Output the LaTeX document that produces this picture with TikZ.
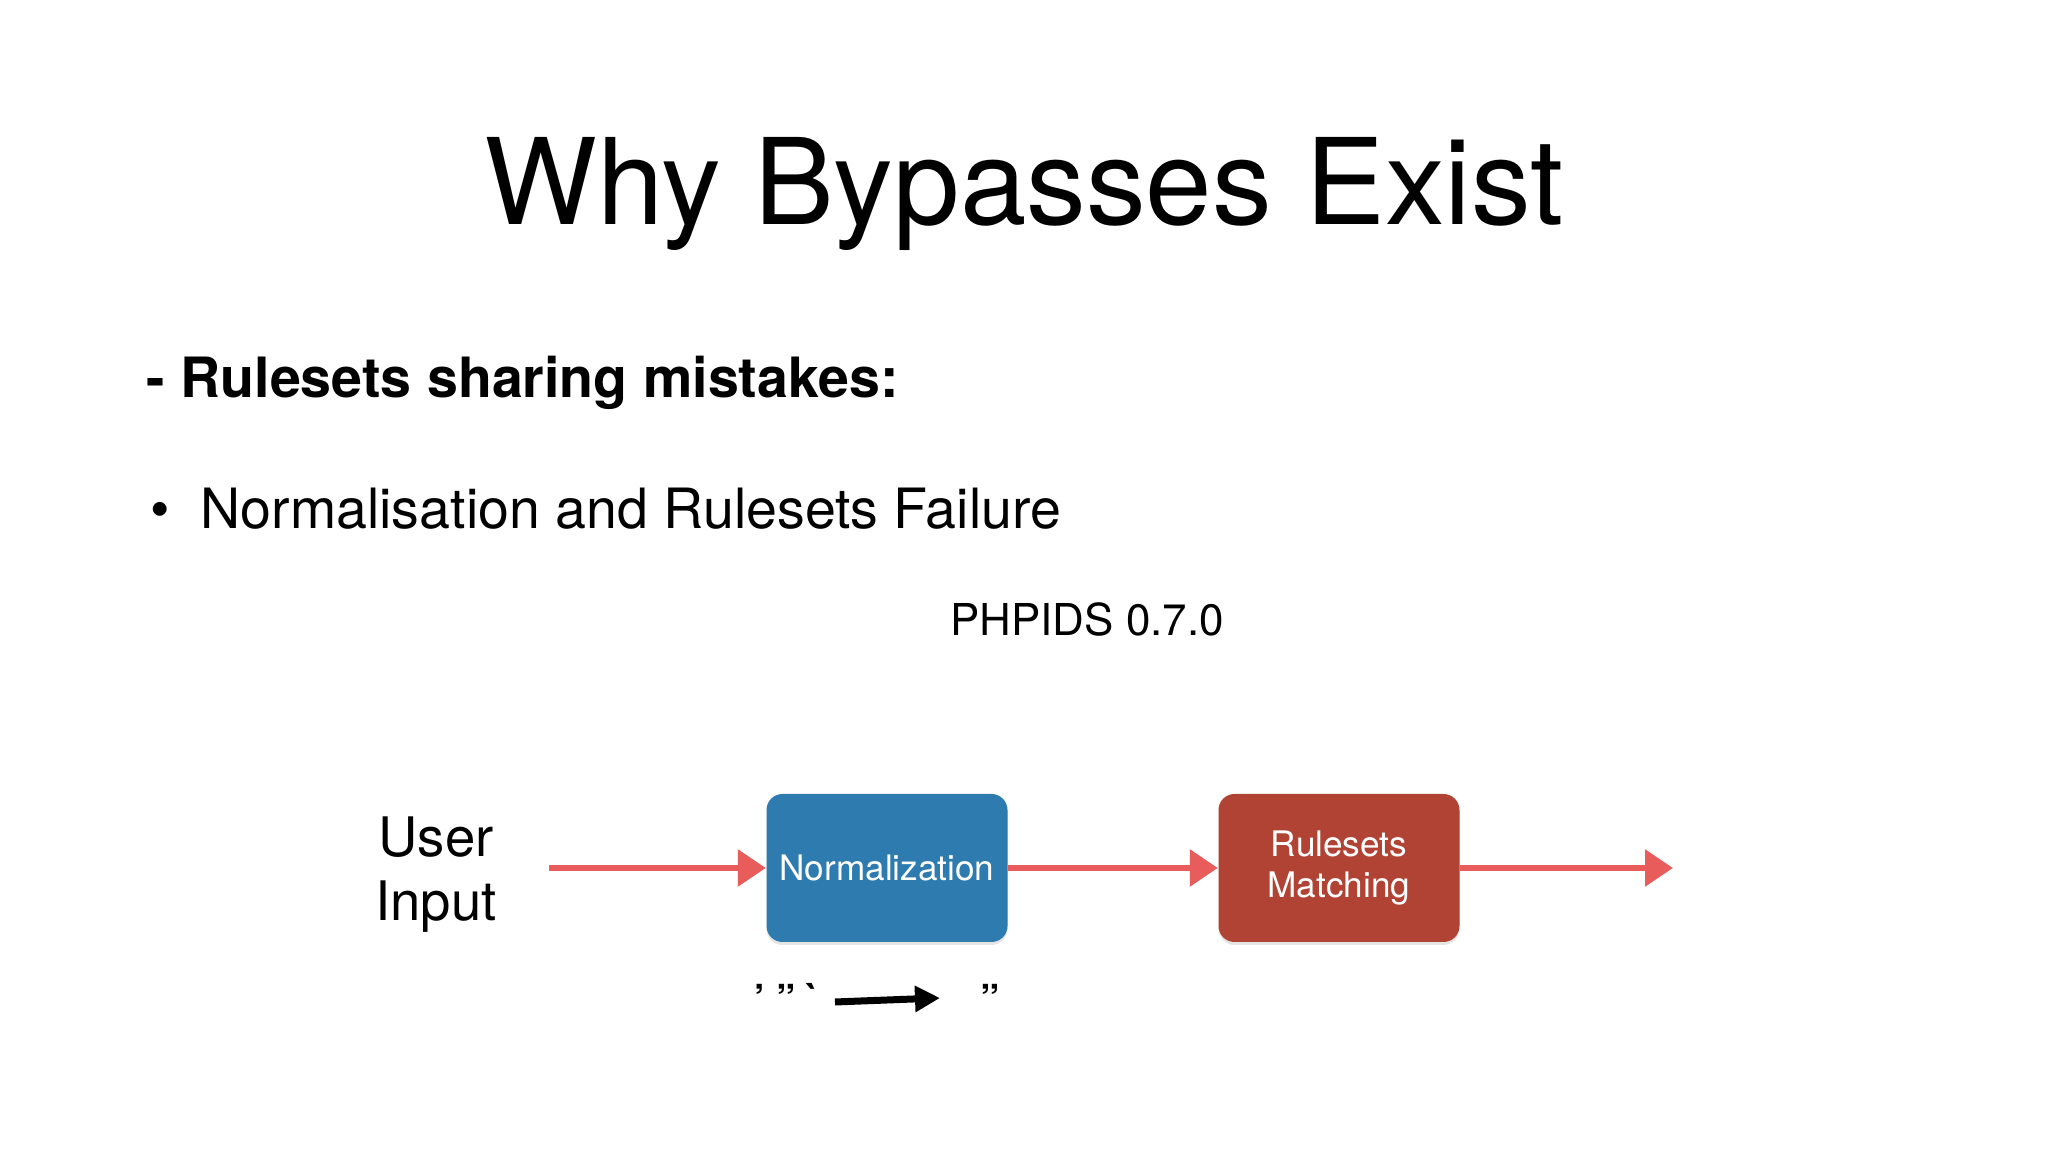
\documentclass[tikz,border=0pt]{standalone}
\usepackage{fontspec}
\setmainfont{TeX Gyre Heros}
\usetikzlibrary{arrows.meta,shadows}
\definecolor{normblue}{RGB}{46,123,176}
\definecolor{rulered}{RGB}{176,67,52}
\definecolor{flowred}{RGB}{232,92,92}
\begin{document}
\begin{tikzpicture}[
  stage/.style={rounded corners=0.16cm, minimum width=2.41cm, minimum height=1.48cm,
    text=white, align=center, font=\fontsize{10}{11.4}\selectfont,
    drop shadow={opacity=0.2,shadow xshift=0cm,shadow yshift=-0.03cm}},
  flow/.style={flowred, line width=0.06cm, -{Triangle[length=0.28cm,width=0.36cm]}}]
% Page
\fill[white] (0,0) rectangle (20.48,11.52);
\useasboundingbox (0,0) rectangle (20.48,11.52);

% Title and bullets
\node[anchor=base,font=\fontsize{34}{40}\selectfont] (title) at (10.24,9.27) {Why Bypasses Exist};
\node[anchor=base west,inner sep=0pt,font=\fontsize{15.8}{19}\selectfont\bfseries] (heading) at (1.46,7.54) {- Rulesets sharing mistakes:};
\node[anchor=base west,inner sep=0pt,font=\fontsize{15.8}{19}\selectfont] (dot) at (1.50,6.23) {•};
\node[anchor=base west,inner sep=0pt,font=\fontsize{15.8}{19}\selectfont] (point) at (2.00,6.23) {Normalisation and Rulesets Failure};
\node[anchor=base,font=\fontsize{12.5}{15}\selectfont] (version) at (10.87,5.16) {PHPIDS 0.7.0};

% Pipeline
\node[align=center,font=\fontsize{15.5}{18.2}\selectfont] (user) at (4.36,2.77) {User\\Input};
\coordinate (in) at (5.49,2.84);
\node[stage,fill=normblue] (norm) at (8.87,2.84) {Normalization};
\node[stage,fill=rulered] (rules) at (13.39,2.84) {\raisebox{-0.05cm}{Rulesets}\\\raisebox{-0.05cm}{Matching}};
\coordinate (out) at (16.73,2.84);
\draw[flow] (in) -- (norm.west);
\draw[flow] (norm.east) -- (rules.west);
\draw[flow] (rules.east) -- (out);

% Quotes being normalized
\node[anchor=base west,inner sep=0pt,font=\fontsize{11}{13}\selectfont\bfseries] (quotes) at (7.54,1.39) {’ ” \textasciigrave};
\node[anchor=base west,inner sep=0pt,font=\fontsize{11}{13}\selectfont\bfseries] (dquote) at (9.80,1.39) {”};
\coordinate (from) at (8.35,1.50);
\coordinate (to) at (9.40,1.54);
\draw[line width=0.07cm,-{Triangle[length=0.25cm,width=0.25cm]}] (from) -- (to);
\end{tikzpicture}
\end{document}
